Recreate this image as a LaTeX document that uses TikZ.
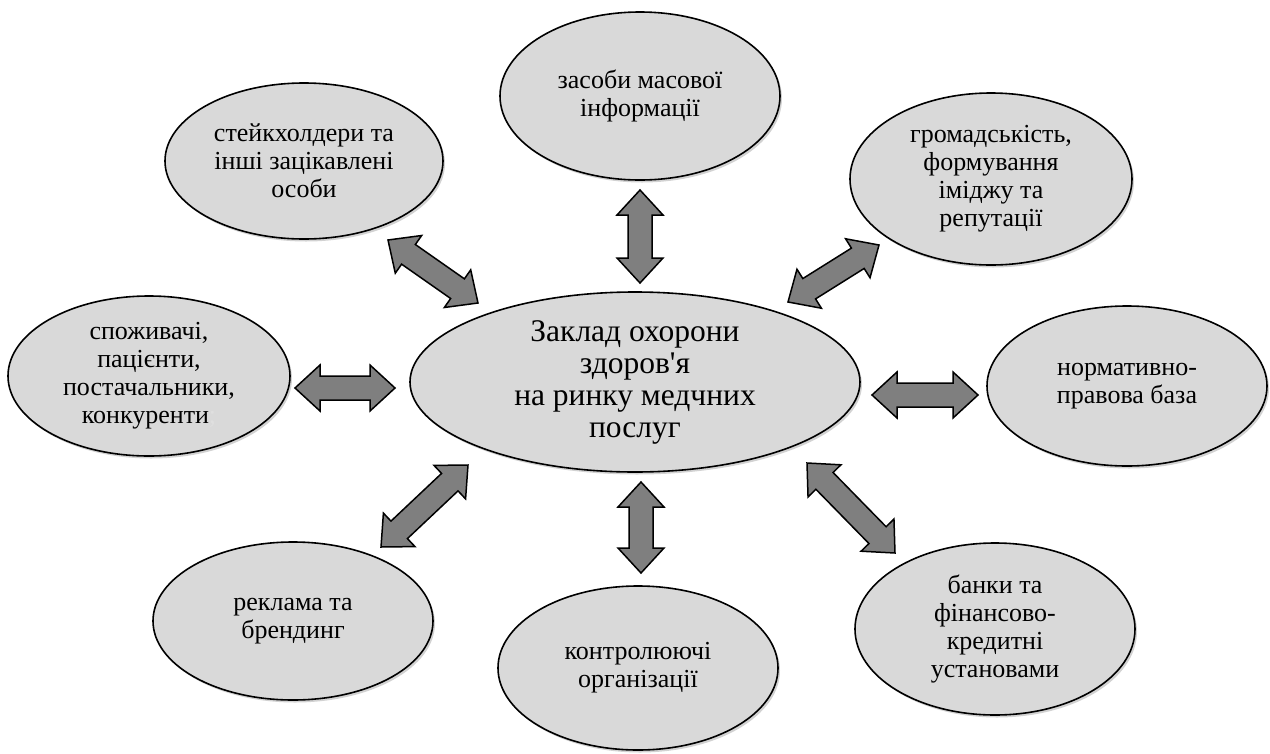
\documentclass[tikz,border=0pt]{standalone}
\usepackage{fontspec}
\setmainfont{Liberation Serif}
\usetikzlibrary{shapes.geometric,calc,shadows}
\definecolor{bubblefill}{HTML}{D9D9D9}
\definecolor{arrowfill}{HTML}{7F7F7F}
\def\hl{25pt}
\def\hw{23pt}
\def\sw{12pt}
\newcommand\blockarr[2]{%
 \draw[blockarrow] (#1)
  -- ($ ($(#1)!\hl!(#2)$) !\hw!90:(#2) $)
  -- ($ ($(#1)!\hl!(#2)$) !\sw!90:(#2) $)
  -- ($ ($(#2)!\hl!(#1)$) !\sw!-90:(#1) $)
  -- ($ ($(#2)!\hl!(#1)$) !\hw!-90:(#1) $)
  -- (#2)
  -- ($ ($(#2)!\hl!(#1)$) !\hw!90:(#1) $)
  -- ($ ($(#2)!\hl!(#1)$) !\sw!90:(#1) $)
  -- ($ ($(#1)!\hl!(#2)$) !\sw!-90:(#2) $)
  -- ($ ($(#1)!\hl!(#2)$) !\hw!-90:(#2) $)
  -- cycle;}
\begin{document}
\begin{tikzpicture}[x=1pt,y=-1pt,
  bubble/.style={ellipse, draw=black, line width=1.6pt, fill=bubblefill,
    inner sep=0pt, align=center, font=\fontsize{26}{28}\selectfont,
    drop shadow={opacity=0.35, shadow xshift=2pt, shadow yshift=-2.5pt}},
  blockarrow/.style={draw=black, line width=1.5pt, fill=arrowfill, line join=miter}]
\fill[white] (0,0) rectangle (1270,753);
\useasboundingbox (0,0) rectangle (1270,753);

\node[bubble, minimum width=450pt, minimum height=180pt, font=\fontsize{31.5}{32}\selectfont] (center) at (635,382)
  {Заклад охорони\\здоров\textquotesingle я\\на ринку медчних\\послуг};
\node[bubble, minimum width=280pt, minimum height=168pt] (media) at (640,96) {засоби масової\\інформації};
\node[bubble, minimum width=278pt, minimum height=156pt] (stake) at (304,161) {стейкхолдери та\\інші зацікавлені\\особи};
\node[bubble, minimum width=282pt, minimum height=172pt] (public) at (991,179) {громадськість,\\формування\\іміджу та\\репутації};
\node[bubble, minimum width=282pt, minimum height=160pt] (consumers) at (149,376) {споживачі,\\пацієнти,\\постачальники,\\конкуренти{\color{gray!25};}};
\node[bubble, minimum width=280pt, minimum height=160pt] (law) at (1127,386) {нормативно-\\правова база};
\node[bubble, minimum width=280pt, minimum height=158pt] (ads) at (293,621) {реклама та\\брендинг};
\node[bubble, minimum width=280pt, minimum height=164pt] (control) at (638,668) {контролюючі\\організації};
\node[bubble, minimum width=280pt, minimum height=172pt] (banks) at (995,629) {банки та\\фінансово-\\кредитні\\установами};

\coordinate (mediaA) at (640,190);  \coordinate (mediaB) at (640,283);
\coordinate (controlA) at (641,482); \coordinate (controlB) at (641,573);
\coordinate (consA) at (295,388);   \coordinate (consB) at (395,388);
\coordinate (lawA) at (872,395);    \coordinate (lawB) at (978,395);
\coordinate (stakeA) at (388,240);  \coordinate (stakeB) at (478,303);
\coordinate (pubA) at (788,302);    \coordinate (pubB) at (879,245);
\coordinate (adsA) at (381,547);    \coordinate (adsB) at (468,465);
\coordinate (banksA) at (807,463);  \coordinate (banksB) at (895,553);

\blockarr{mediaA}{mediaB}
\blockarr{controlA}{controlB}
\blockarr{consA}{consB}
\blockarr{lawA}{lawB}
\blockarr{stakeA}{stakeB}
\blockarr{pubA}{pubB}
\blockarr{adsA}{adsB}
\blockarr{banksA}{banksB}
\end{tikzpicture}
\end{document}
